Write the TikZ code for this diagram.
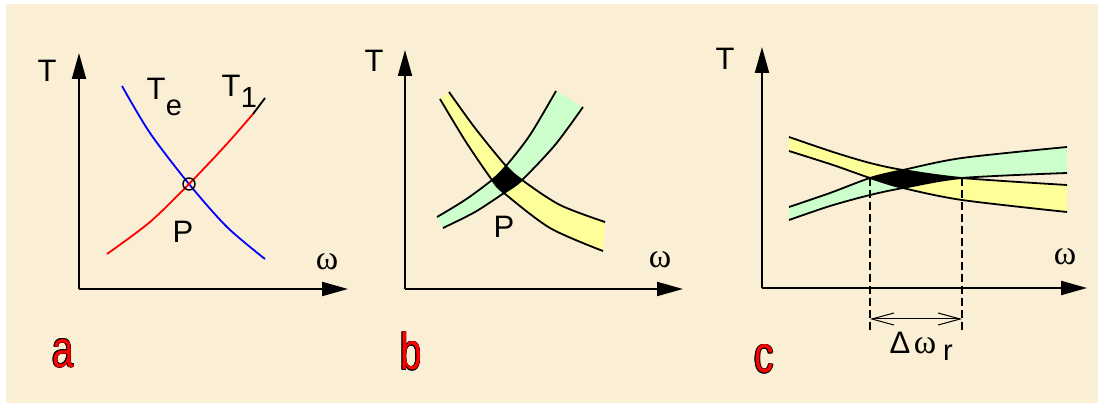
\documentclass[tikz,border=0pt]{standalone}
\usepackage{fontspec}
\setmainfont{Liberation Sans}
\newfontfamily\omegafont{Liberation Serif}
\usetikzlibrary{arrows.meta}
\definecolor{bgbeige}{RGB}{250,238,212}
\definecolor{bandyellow}{RGB}{255,255,153}
\definecolor{bandgreen}{RGB}{204,255,204}
\tikzset{
  axis/.style={line width=2pt,-{Triangle[length=26pt,width=14pt]}},
  curve/.style={line width=1.8pt},
  txt/.style={font=\fontsize{31}{31}\selectfont,anchor=base,inner sep=0pt},
  subtxt/.style={font=\fontsize{29}{29}\selectfont,anchor=base,inner sep=0pt},
  omg/.style={font=\fontsize{34}{34}\selectfont\omegafont,anchor=base,inner sep=0pt},
  lbl/.style={font=\fontsize{52}{52}\selectfont,anchor=base,inner sep=0pt,xscale=0.75},
  dashline/.style={line width=1.3pt,dash pattern=on 8pt off 4pt},
  dimarrow/.style={line width=1pt,{Straight Barb[length=22pt,width=12pt]}-{Straight Barb[length=22pt,width=12pt]}}
}
\newcommand\outlbl[3]{%
  \foreach \dx/\dy in {-0.8/0,0.8/0,0/-0.8,0/0.8,-0.6/-0.6,0.6/0.6,-0.6/0.6,0.6/-0.6}{%
    \node[lbl,text=black] at ([shift={(\dx pt,\dy pt)}]#1) {#2};}
  \node[lbl,text=red] (#3) at (#1) {#2};}
\begin{document}
\begin{tikzpicture}[x=1pt,y=-1pt]
\useasboundingbox (0,0) rectangle (1098,403);
\fill[white] (0,0) rectangle (1098,403);
\fill[bgbeige] (6,4) rectangle (1098,403);

% ---------------- panel a ----------------
\coordinate (ao) at (79,289);
\coordinate (ay) at (79,53);
\coordinate (ax) at (348,289);
\draw[axis] (ao) -- (ay);
\draw[axis] (ao) -- (ax);
\draw[curve,blue] plot[smooth] coordinates {(122,86) (150,133) (189,184) (227,227) (265,259)};
\draw[curve,red] plot[smooth] coordinates {(107,254) (150,222) (189,184) (225,146) (253,114)};
\coordinate (a1) at (253,114);
\coordinate (a2) at (265,98);
\draw[curve,black] (a1) -- (a2);
\node[draw,circle,line width=1.4pt,minimum size=12pt,inner sep=0pt] (pa) at (189,184) {};
\node[txt] (Ta) at (47,82) {T};
\node[txt] (Te) at (156,100) {T};
\node[subtxt] (e) at (174,116) {e};
\node[txt] (T1) at (231,97) {T};
\node[subtxt] (one) at (249,108) {1};
\node[txt] (Pa) at (183,243) {P};
\node[omg] (wa) at (327,270) {ω};
\outlbl{63,367}{a}{la}

% ---------------- panel b ----------------
\coordinate (bo) at (405,289);
\coordinate (by) at (405,50);
\coordinate (bx) at (683,289);
\draw[axis] (bo) -- (by);
\draw[axis] (bo) -- (bx);
\fill[bandgreen] plot[smooth] coordinates {(437,217) (465,200) (492,180) (506,166) (530,135) (556,91)}
  -- plot[smooth] coordinates {(583,107) (555,145) (522,180) (504,193) (475,212) (443,228)} -- cycle;
\fill[bandyellow] plot[smooth] coordinates {(449,92) (475,128) (506,166) (522,180) (560,205) (605,222)}
  -- plot[smooth] coordinates {(603,251) (550,228) (504,193) (492,180) (466,142) (440,99)} -- cycle;
\begin{scope}
\clip plot[smooth] coordinates {(437,217) (465,200) (492,180) (506,166) (530,135) (556,91)}
  -- plot[smooth] coordinates {(583,107) (555,145) (522,180) (504,193) (475,212) (443,228)} -- cycle;
\fill[black] plot[smooth] coordinates {(449,92) (475,128) (506,166) (522,180) (560,205) (605,222)}
  -- plot[smooth] coordinates {(603,251) (550,228) (504,193) (492,180) (466,142) (440,99)} -- cycle;
\end{scope}
\draw[curve] plot[smooth] coordinates {(437,217) (465,200) (492,180) (506,166) (530,135) (556,91)};
\draw[curve] plot[smooth] coordinates {(443,228) (475,212) (504,193) (522,180) (555,145) (583,107)};
\draw[curve] plot[smooth] coordinates {(449,92) (475,128) (506,166) (522,180) (560,205) (605,222)};
\draw[curve] plot[smooth] coordinates {(440,99) (466,142) (492,180) (504,193) (550,228) (603,251)};
\node[txt] (Tb) at (374,72) {T};
\node[txt] (Pb) at (504,238) {P};
\node[omg] (wb) at (660,268) {ω};
\outlbl{411,370}{b}{lb}

% ---------------- panel c ----------------
\coordinate (co) at (762,288);
\coordinate (cy) at (762,47);
\coordinate (cx) at (1087,288);
\draw[axis] (co) -- (cy);
\draw[axis] (co) -- (cx);
\fill[bandgreen] plot[smooth] coordinates {(789,207) (830,193) (870,178) (903,170) (962,158) (1067,147)}
  -- plot[smooth] coordinates {(1067,173) (962,178) (903,188) (870,195) (830,206) (789,220)} -- cycle;
\fill[bandyellow] plot[smooth] coordinates {(789,137) (833,152) (870,163) (903,170) (962,178) (1067,185)}
  -- plot[smooth] coordinates {(1067,212) (962,200) (903,188) (870,178) (833,165) (789,151)} -- cycle;
\begin{scope}
\clip plot[smooth] coordinates {(789,207) (830,193) (870,178) (903,170) (962,158) (1067,147)}
  -- plot[smooth] coordinates {(1067,173) (962,178) (903,188) (870,195) (830,206) (789,220)} -- cycle;
\fill[black] plot[smooth] coordinates {(789,137) (833,152) (870,163) (903,170) (962,178) (1067,185)}
  -- plot[smooth] coordinates {(1067,212) (962,200) (903,188) (870,178) (833,165) (789,151)} -- cycle;
\end{scope}
\draw[curve] plot[smooth] coordinates {(789,207) (830,193) (870,178) (903,170) (962,158) (1067,147)};
\draw[curve] plot[smooth] coordinates {(789,220) (830,206) (870,195) (903,188) (962,178) (1067,173)};
\draw[curve] plot[smooth] coordinates {(789,137) (833,152) (870,163) (903,170) (962,178) (1067,185)};
\draw[curve] plot[smooth] coordinates {(789,151) (833,165) (870,178) (903,188) (962,200) (1067,212)};
\coordinate (dl) at (870,178);
\coordinate (dr) at (962,178);
\coordinate (dlb) at (870,330);
\coordinate (drb) at (962,330);
\coordinate (al) at (870,319);
\coordinate (ar) at (962,319);
\draw[dashline] (dl) -- (dlb);
\draw[dashline] (dr) -- (drb);
\draw[dimarrow] (al) -- (ar);
\node[txt] (Tc) at (725,70) {T};
\node[omg] (wc) at (1065,265) {ω};
\node[txt] (Delta) at (900,353) {Δ};
\node[omg] (wr) at (925,353) {ω};
\node[subtxt] (r) at (948,360) {r};
\outlbl{764,373}{c}{lc}
\end{tikzpicture}
\end{document}
